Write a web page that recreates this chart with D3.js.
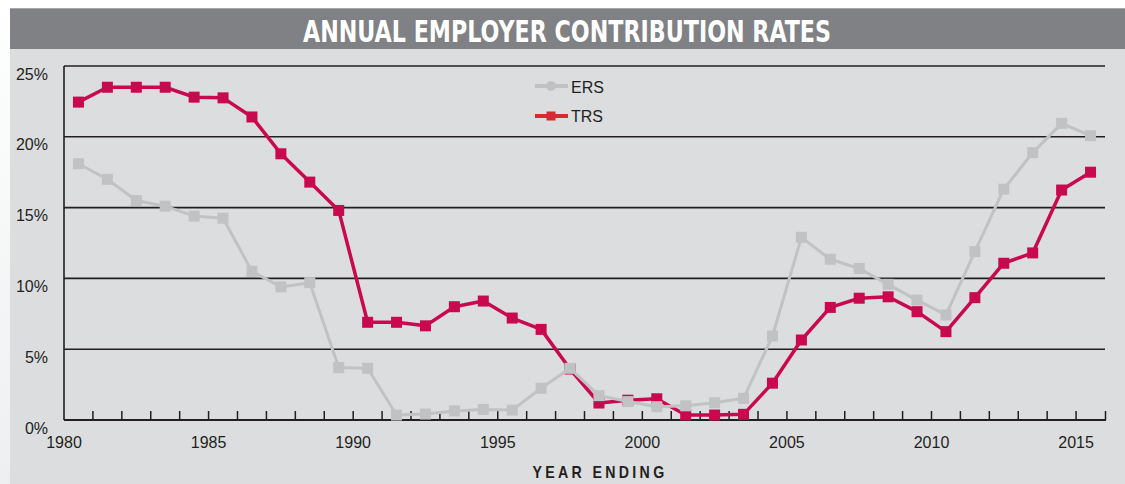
<!DOCTYPE html>
<html>
<head>
	<script src="https://d3js.org/d3.v7.min.js"></script>
	<style>
		html, body {
			padding: 0;
			margin: 0;
			background: #ffffff;
		}
	</style>
</head>
<body>
	<script>
		var width = 1125;
		var height = 484;

		// data (percent)
		var years = d3.range(1980, 2016);
		var ersRates = [18.1, 17.0, 15.5, 15.1, 14.4, 14.25, 10.5, 9.4, 9.7, 3.7,
			3.65, 0.35, 0.42, 0.64, 0.75, 0.7, 2.24, 3.65, 1.72, 1.3,
			0.94, 1.0, 1.22, 1.53, 5.93, 12.9, 11.35, 10.7, 9.58, 8.47,
			7.42, 11.89, 16.3, 18.88, 20.95, 20.08];
		var trsRates = [22.45, 23.5, 23.5, 23.5, 22.8, 22.75, 21.4, 18.8, 16.8, 14.8,
			6.9, 6.9, 6.65, 8.0, 8.4, 7.2, 6.4, 3.6, 1.2, 1.4,
			1.5, 0.35, 0.35, 0.4, 2.6, 5.65, 7.95, 8.6, 8.7, 7.65,
			6.24, 8.64, 11.07, 11.8, 16.24, 17.5];
		var yTicks = [0, 5, 10, 15, 20, 25];
		var xLabels = [1980, 1985, 1990, 1995, 2000, 2005, 2010, 2015];

		var ersColor = '#c1c2c4';
		var trsColor = '#c9094e';
		var ink = '#231f20';

		var svg = d3.select('body').append('svg')
			.attr('width', width)
			.attr('height', height)
			.style('display', 'block');

		//////// BACKGROUND ////////
		var defs = svg.append('defs');
		var edge = defs.append('linearGradient')
			.attr('id', 'edge')
			.attr('x1', '0%').attr('y1', '0%')
			.attr('x2', '0%').attr('y2', '100%');
		edge.append('stop').attr('offset', '0%').attr('stop-color', '#ffffff');
		edge.append('stop').attr('offset', '100%').attr('stop-color', '#eeeff0');

		svg.append('rect')
			.attr('x', 0).attr('y', 0)
			.attr('width', 10).attr('height', height)
			.attr('fill', 'url(#edge)');

		svg.append('rect')
			.attr('x', 10).attr('y', 49)
			.attr('width', width - 10).attr('height', height - 49)
			.attr('fill', '#dcdddf');

		// title bar
		svg.append('rect')
			.attr('x', 10).attr('y', 8)
			.attr('width', width - 10).attr('height', 41)
			.attr('fill', '#808184');
		svg.append('line')
			.attr('x1', 10).attr('x2', width)
			.attr('y1', 8.5).attr('y2', 8.5)
			.attr('stroke', '#a6a7a9');

		svg.append('text')
			.attr('x', 567)
			.attr('y', 42)
			.attr('text-anchor', 'middle')
			.attr('textLength', 528)
			.attr('lengthAdjust', 'spacingAndGlyphs')
			.style('font-family', '"Liberation Sans Narrow", "DejaVu Sans Condensed", "Arial Narrow", sans-serif')
			.style('font-weight', 'bold')
			.style('font-size', '31px')
			.attr('fill', '#ffffff')
			.text('ANNUAL EMPLOYER CONTRIBUTION RATES');

		//////// SCALES ////////
		var x = d3.scaleBand()
			.domain(years)
			.range([64, 1105]);

		var y = d3.scaleLinear()
			.domain([0, 25])
			.range([420, 66]);

		var cx = function(d, i) { return x(years[i]) + x.bandwidth() / 2; };

		var font = '"Liberation Sans", Arial, Helvetica, sans-serif';

		//////// GRID + AXES ////////
		svg.append('g').selectAll('line')
			.data(yTicks.filter(function(d) { return d > 0; }))
			.join('line')
			.attr('x1', 64).attr('x2', 1105)
			.attr('y1', function(d) { return y(d); })
			.attr('y2', function(d) { return y(d); })
			.attr('stroke', ink)
			.attr('stroke-width', 1.6);

		svg.append('g').selectAll('text')
			.data(yTicks)
			.join('text')
			.attr('x', 48)
			.attr('y', function(d) { return y(d) + 13.5; })
			.attr('text-anchor', 'end')
			.style('font-family', font)
			.style('font-size', '16px')
			.attr('fill', ink)
			.text(function(d) { return d + '%'; });

		// left axis
		svg.append('line')
			.attr('x1', 64).attr('x2', 64)
			.attr('y1', y(25)).attr('y2', y(0))
			.attr('stroke', ink)
			.attr('stroke-width', 1.6);

		// bottom axis with year ticks
		var xAxis = d3.axisBottom(x)
			.tickValues(years.slice(1))
			.tickSize(-9)
			.tickSizeOuter(0)
			.tickFormat('')
			.offset(0);

		var gx = svg.append('g')
			.attr('transform', 'translate(' + (-x.bandwidth() / 2) + ',' + y(0) + ')')
			.call(xAxis);
		gx.select('.domain').remove();
		gx.selectAll('.tick line')
			.attr('stroke', ink)
			.attr('stroke-width', 1.5);

		svg.append('line')
			.attr('x1', 64).attr('x2', 1106)
			.attr('y1', y(0)).attr('y2', y(0))
			.attr('stroke', ink)
			.attr('stroke-width', 2);
		svg.append('line')
			.attr('x1', 1105.5).attr('x2', 1105.5)
			.attr('y1', y(0) - 9).attr('y2', y(0))
			.attr('stroke', ink)
			.attr('stroke-width', 1.5);

		svg.append('g').selectAll('text')
			.data(xLabels)
			.join('text')
			.attr('x', function(d) { return x(d); })
			.attr('y', 448)
			.attr('text-anchor', 'middle')
			.style('font-family', font)
			.style('font-size', '16px')
			.attr('fill', ink)
			.text(function(d) { return d; });

		svg.append('text')
			.attr('x', 600)
			.attr('y', 478)
			.attr('text-anchor', 'middle')
			.attr('textLength', 135)
			.attr('lengthAdjust', 'spacingAndGlyphs')
			.style('font-family', font)
			.style('font-weight', 'bold')
			.style('font-size', '17px')
			.style('letter-spacing', '4px')
			.attr('fill', ink)
			.text('YEAR ENDING');

		//////// SERIES ////////
		var line = d3.line()
			.x(cx)
			.y(function(d) { return y(d); });

		function drawSeries(values, color, lw) {
			var g = svg.append('g');
			g.append('path')
				.datum(values)
				.attr('d', line)
				.attr('fill', 'none')
				.attr('stroke', color)
				.attr('stroke-width', lw)
				.attr('stroke-linejoin', 'round');
			g.selectAll('rect')
				.data(values)
				.join('rect')
				.attr('x', function(d, i) { return cx(d, i) - 5.5; })
				.attr('y', function(d) { return y(d) - 5.5; })
				.attr('width', 11)
				.attr('height', 11)
				.attr('fill', color);
		}

		drawSeries(trsRates, trsColor, 3.5);
		drawSeries(ersRates, ersColor, 3);

		//////// LEGEND ////////
		var legend = svg.append('g');

		legend.append('line')
			.attr('x1', 535).attr('x2', 568)
			.attr('y1', 86).attr('y2', 86)
			.attr('stroke', '#c0c1c3')
			.attr('stroke-width', 4);
		legend.append('circle')
			.attr('cx', 551).attr('cy', 86)
			.attr('r', 5)
			.attr('fill', '#c0c1c3');
		legend.append('text')
			.attr('x', 571).attr('y', 92.5)
			.style('font-family', font)
			.style('font-size', '16px')
			.attr('fill', ink)
			.text('ERS');

		legend.append('line')
			.attr('x1', 535).attr('x2', 568)
			.attr('y1', 116).attr('y2', 116)
			.attr('stroke', '#d42a30')
			.attr('stroke-width', 4);
		legend.append('rect')
			.attr('x', 546.5).attr('y', 111.5)
			.attr('width', 9).attr('height', 9)
			.attr('fill', '#d42a30');
		legend.append('text')
			.attr('x', 571).attr('y', 122)
			.style('font-family', font)
			.style('font-size', '16px')
			.attr('fill', ink)
			.text('TRS');
	</script>
</body>
</html>
